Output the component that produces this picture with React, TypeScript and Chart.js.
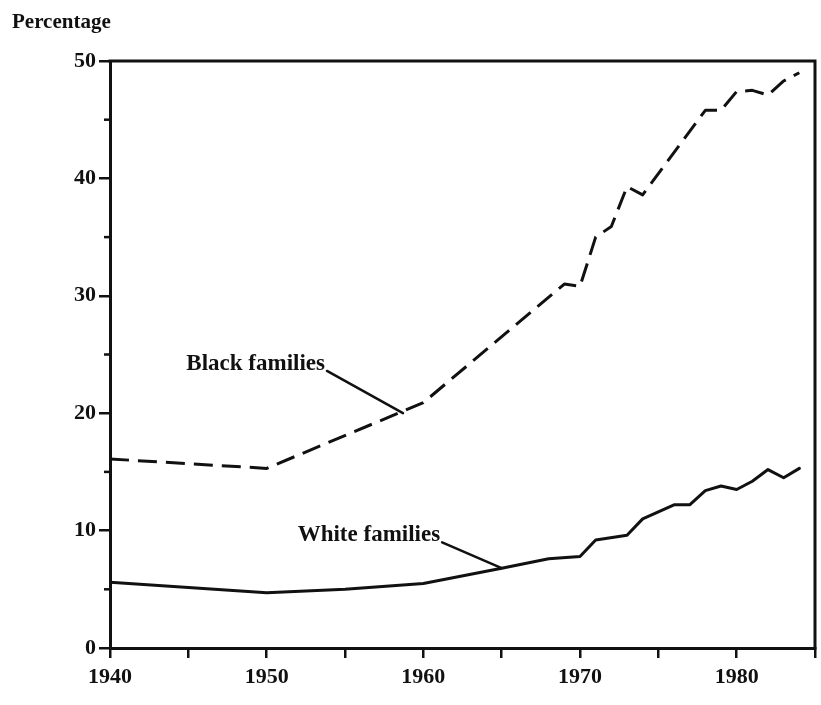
import React, { useEffect, useRef } from 'react';
import { Chart, registerables } from 'chart.js';

Chart.register(...registerables);

// ---- Data ----
const blackYears = [1940, 1950, 1960, 1969, 1970, 1971, 1972, 1973, 1974, 1978, 1979, 1980, 1981, 1982, 1983, 1984];
const blackValues = [16.1, 15.3, 20.9, 31.0, 30.8, 35.0, 35.9, 39.3, 38.6, 45.8, 45.8, 47.4, 47.5, 47.1, 48.3, 49.0];

const whiteYears = [1940, 1950, 1955, 1960, 1965, 1968, 1970, 1971, 1973, 1974, 1976, 1977, 1978, 1979, 1980, 1981, 1982, 1983, 1984];
const whiteValues = [5.6, 4.7, 5.0, 5.5, 6.8, 7.6, 7.8, 9.2, 9.6, 11.0, 12.2, 12.2, 13.4, 13.8, 13.5, 14.2, 15.2, 14.5, 15.3];

const xTickLabels = [1940, 1950, 1960, 1970, 1980];
const yTickLabels = [0, 10, 20, 30, 40, 50];

const axisTitle = 'Percentage';
const seriesLabels = ['Black families', 'White families'];

// leader lines for the in-chart labels, in data coordinates
const labelFromYears = [1953.85, 1961.2];
const labelFromValues = [23.6, 9.0];
const labelToYears = [1958.7, 1965.0];
const labelToValues = [20.0, 6.8];

const INK = '#111111';
const FONT = '"Liberation Serif", "Times New Roman", serif';

const framePlugin = {
  id: 'framePlugin',
  afterDraw(chart: any) {
    const { ctx, chartArea, scales } = chart;
    const { left, top, right, bottom } = chartArea;
    const xs = scales.x;
    const ys = scales.y;
    ctx.save();
    // top and right frame
    ctx.strokeStyle = INK;
    ctx.lineWidth = 3;
    ctx.lineCap = 'square';
    ctx.beginPath();
    ctx.moveTo(left, top);
    ctx.lineTo(right, top);
    ctx.lineTo(right, bottom);
    ctx.stroke();

    // short minor ticks halfway between labelled y ticks
    ctx.lineWidth = 2.5;
    ctx.lineCap = 'butt';
    for (let i = 0; i < yTickLabels.length - 1; i++) {
      const v = (yTickLabels[i] + yTickLabels[i + 1]) / 2;
      const py = ys.getPixelForValue(v);
      ctx.beginPath();
      ctx.moveTo(left - 6, py);
      ctx.lineTo(left, py);
      ctx.stroke();
    }

    // axis title
    ctx.fillStyle = INK;
    ctx.font = `bold 21px ${FONT}`;
    ctx.textAlign = 'left';
    ctx.textBaseline = 'alphabetic';
    ctx.fillText(axisTitle, 12, 28);

    // series labels with leader lines
    ctx.font = `bold 23px ${FONT}`;
    ctx.textAlign = 'right';
    ctx.lineWidth = 2.5;
    ctx.lineCap = 'round';
    for (let i = 0; i < seriesLabels.length; i++) {
      const x1 = xs.getPixelForValue(labelFromYears[i]);
      const y1 = ys.getPixelForValue(labelFromValues[i]);
      const x2 = xs.getPixelForValue(labelToYears[i]);
      const y2 = ys.getPixelForValue(labelToValues[i]);
      ctx.beginPath();
      ctx.moveTo(x1, y1);
      ctx.lineTo(x2, y2);
      ctx.stroke();
      ctx.fillText(seriesLabels[i], x1 - 2, y1 - 1);
    }
    ctx.restore();
  },
};

export default function App() {
  const canvasRef = useRef<HTMLCanvasElement | null>(null);

  useEffect(() => {
    const canvas = canvasRef.current;
    if (!canvas) return;
    const chart = new Chart(canvas, {
      type: 'line',
      data: {
        datasets: [
          {
            label: seriesLabels[0],
            data: blackYears.map((yr, i) => ({ x: yr, y: blackValues[i] })),
            borderColor: INK,
            borderWidth: 3,
            borderDash: [19, 9],
            borderCapStyle: 'butt',
            borderJoinStyle: 'round',
            pointRadius: 0,
            tension: 0,
            fill: false,
          },
          {
            label: seriesLabels[1],
            data: whiteYears.map((yr, i) => ({ x: yr, y: whiteValues[i] })),
            borderColor: INK,
            borderWidth: 3,
            borderCapStyle: 'round',
            borderJoinStyle: 'round',
            pointRadius: 0,
            tension: 0,
            fill: false,
          },
        ],
      },
      options: {
        animation: false,
        responsive: false,
        devicePixelRatio: 1,
        layout: { padding: { top: 61, right: 6, bottom: 0, left: 0 } },
        plugins: {
          legend: { display: false },
          tooltip: { enabled: false },
          title: { display: false },
        },
        scales: {
          x: {
            type: 'linear',
            min: 1940,
            max: 1985,
            afterFit: (s: any) => {
              s.height = 57;
            },
            border: { display: true, color: INK, width: 3 },
            grid: {
              display: true,
              drawOnChartArea: false,
              drawTicks: true,
              tickLength: 10,
              lineWidth: 2.5,
              color: INK,
            },
            ticks: {
              stepSize: 5,
              autoSkip: false,
              maxRotation: 0,
              padding: 6,
              color: INK,
              font: { family: FONT, size: 22, weight: 'bold' },
              callback: (v: any) => (xTickLabels.includes(Number(v)) ? String(v) : ''),
            },
          },
          y: {
            type: 'linear',
            min: 0,
            max: 50,
            afterFit: (s: any) => {
              s.width = 110;
            },
            border: { display: true, color: INK, width: 3 },
            grid: {
              display: true,
              drawOnChartArea: false,
              drawTicks: true,
              tickLength: 11,
              lineWidth: 2.5,
              color: INK,
            },
            ticks: {
              stepSize: 10,
              autoSkip: false,
              padding: 3,
              color: INK,
              font: { family: FONT, size: 22, weight: 'bold' },
              callback: (v: any) => (yTickLabels.includes(Number(v)) ? String(v) : ''),
            },
          },
        },
      },
      plugins: [framePlugin],
    } as any);
    return () => chart.destroy();
  }, []);

  return (
    <div style={{ position: 'absolute', left: 0, top: 0, width: 821, height: 705, background: '#ffffff' }}>
      <canvas ref={canvasRef} width={821} height={705} style={{ display: 'block' }} />
    </div>
  );
}
